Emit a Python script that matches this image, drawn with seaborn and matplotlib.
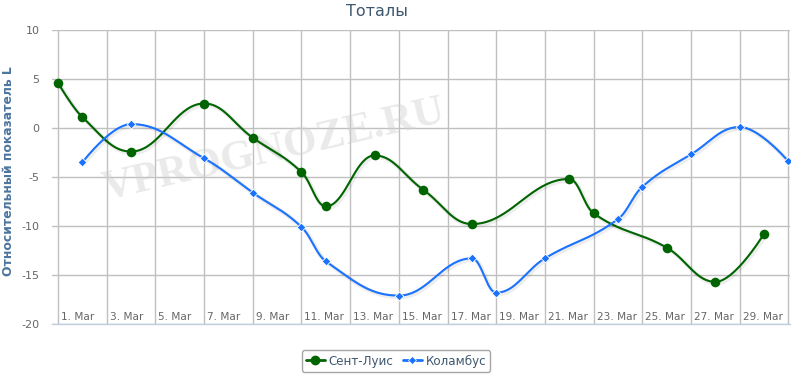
import numpy as np
import matplotlib
matplotlib.use("Agg")
import matplotlib.pyplot as plt
import matplotlib.transforms as mtransforms
import matplotlib.patheffects as pe
from matplotlib.lines import Line2D
import seaborn as sns

# Data (day of March -> value)
stl_days = [1, 2, 4, 7, 9, 11, 12, 14, 16, 18, 22, 23, 26, 28, 30]
stl_vals = [4.6, 1.1, -2.4, 2.5, -1.0, -4.5, -8.0, -2.8, -6.3, -9.8, -5.2, -8.7, -12.2, -15.7, -10.8]
clb_days = [2, 4, 7, 9, 11, 12, 15, 18, 19, 21, 24, 25, 27, 29, 31]
clb_vals = [-3.5, 0.4, -3.1, -6.6, -10.1, -13.6, -17.1, -13.3, -16.8, -13.3, -9.3, -6.0, -2.7, 0.1, -3.4]
tick_days = list(range(1, 32, 2))
tick_labels = [f"{d}. Mar" for d in tick_days]
y_ticks = [-20, -15, -10, -5, 0, 5, 10]

GREEN = "#006400"
BLUE = "#1a72ff"


def hc_spline(xs, ys, n=40):
    # Highcharts-style spline (smoothing 1.5) evaluated as cubic beziers
    xs = np.asarray(xs, float)
    ys = np.asarray(ys, float)
    k = len(xs)
    sm = 1.5
    d = sm + 1
    lc = np.column_stack([xs, ys]).copy()
    rc = lc.copy()
    for i in range(1, k - 1):
        x, y = xs[i], ys[i]
        lx, ly = xs[i - 1], ys[i - 1]
        nx, ny = xs[i + 1], ys[i + 1]
        lcx, lcy = (sm * x + lx) / d, (sm * y + ly) / d
        rcx, rcy = (sm * x + nx) / d, (sm * y + ny) / d
        corr = (rcy - lcy) * (rcx - x) / (rcx - lcx) + y - rcy
        lcy += corr
        rcy += corr
        if lcy > ly and lcy > y:
            lcy = max(ly, y); rcy = 2 * y - lcy
        elif lcy < ly and lcy < y:
            lcy = min(ly, y); rcy = 2 * y - lcy
        if rcy > ny and rcy > y:
            rcy = max(ny, y); lcy = 2 * y - rcy
        elif rcy < ny and rcy < y:
            rcy = min(ny, y); lcy = 2 * y - rcy
        lc[i] = (lcx, lcy)
        rc[i] = (rcx, rcy)
    t = np.linspace(0, 1, n)[:, None]
    out = []
    for i in range(1, k):
        p0 = np.array([xs[i - 1], ys[i - 1]])
        p1 = rc[i - 1]
        p2 = lc[i]
        p3 = np.array([xs[i], ys[i]])
        seg = ((1 - t) ** 3) * p0 + 3 * ((1 - t) ** 2) * t * p1 + 3 * (1 - t) * t ** 2 * p2 + t ** 3 * p3
        out.append(seg if i == 1 else seg[1:])
    out = np.vstack(out)
    return out[:, 0], out[:, 1]


sns.set_style("white")
plt.rcParams["font.family"] = ["DejaVu Sans"]

fig = plt.figure(figsize=(7.91, 3.75), dpi=100)
ax = fig.add_axes([52 / 791, 51 / 375, 738 / 791, 294 / 375])

shadow = [pe.SimpleLineShadow(offset=(1, -1), shadow_color="black", alpha=0.07, linewidth=3.2), pe.Normal()]

sx, sy = hc_spline(stl_days, stl_vals)
cx, cy = hc_spline(clb_days, clb_vals)
sns.lineplot(x=sx, y=sy, sort=False, estimator=None, color=GREEN, linewidth=1.5, ax=ax, zorder=3,
             path_effects=shadow)
sns.lineplot(x=cx, y=cy, sort=False, estimator=None, color=BLUE, linewidth=1.5, ax=ax, zorder=3,
             path_effects=shadow)
sns.scatterplot(x=stl_days, y=stl_vals, color=GREEN, marker="o", s=48, edgecolor=GREEN, linewidth=0,
                ax=ax, zorder=4)
sns.scatterplot(x=clb_days, y=clb_vals, color=BLUE, marker="D", s=20, edgecolor="white", linewidth=0.6,
                ax=ax, zorder=4)

ax.set_xlim(0.75, 31.07)
ax.set_ylim(-20, 10)
ax.set_xticks(tick_days)
ax.set_xticklabels([])
ax.set_yticks(y_ticks)
ax.set_yticklabels([str(v) for v in y_ticks], color="#666666", fontsize=8)
ax.tick_params(axis="both", length=0)
ax.tick_params(axis="y", pad=9)
ax.grid(True, color="#c0c0c0", linewidth=1)
ax.set_axisbelow(True)
for side in ["top", "left", "right"]:
    ax.spines[side].set_visible(False)
ax.spines["bottom"].set_color("#c0d0e0")
ax.spines["bottom"].set_linewidth(1)
ax.set_xlabel("")
ax.set_ylabel("")

# x labels drawn inside the plot area, right of each gridline
blend = mtransforms.blended_transform_factory(ax.transData, ax.transAxes)
lab_tr = mtransforms.offset_copy(blend, fig=fig, x=3, y=0, units="dots")
for d, lab in zip(tick_days[:-1], tick_labels[:-1]):
    ax.text(d, 0.024, lab, transform=lab_tr, ha="left", va="center", fontsize=7.6, color="#666666", zorder=5)

# watermark (behind the series, above the grid)
ax.text(274 / 791, 1 - 150 / 375, "VPROGNOZE.RU", transform=fig.transFigure, rotation=13,
        ha="center", va="center", fontsize=31, fontweight="bold", family="Liberation Serif",
        color="#d0d0d0", alpha=0.45, zorder=2)

fig.text(377 / 791, 1 - 11 / 375, "Тоталы", ha="center", va="center", fontsize=11.5, color="#3e576f")
fig.text(9 / 791, 1 - 171 / 375, "Относительный показатель L", rotation=90, ha="center", va="center",
         fontsize=8.9, fontweight="bold", color="#4d759e")

handles = [
    Line2D([0], [0], color=GREEN, lw=2, marker="o", markersize=6),
    Line2D([0], [0], color=BLUE, lw=2, marker="D", markersize=4.5, markeredgecolor="white", markeredgewidth=0.5),
]
leg = fig.legend(handles, ["Сент-Луис", "Коламбус"], loc="center", bbox_to_anchor=(396 / 791, 1 - 361 / 375),
                 ncol=2, frameon=True, fontsize=8.6, handlelength=1.6, handletextpad=0.3, columnspacing=0.8,
                 borderpad=0.35, fancybox=True)
leg.get_frame().set_edgecolor("#909090")
leg.get_frame().set_linewidth(1)
for t in leg.get_texts():
    t.set_color("#3e576f")

fig.savefig("out.png", dpi=100)
